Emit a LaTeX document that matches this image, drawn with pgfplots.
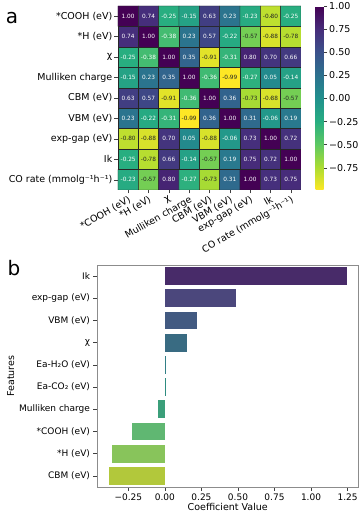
\documentclass[border=0pt]{standalone}
\usepackage{fontspec}
\setmainfont{DejaVu Sans}
\usepackage{pgfplots}
\usepackage{pgfplotstable}
\pgfplotsset{compat=1.18}
\pgfplotsset{colormap={viridisr}{rgb255=(253,231,37) rgb255=(170,220,50) rgb255=(92,200,99) rgb255=(39,173,129) rgb255=(33,144,141) rgb255=(44,113,142) rgb255=(59,81,139) rgb255=(71,44,122) rgb255=(68,1,84)}}
\definecolor{b1}{RGB}{72,43,105}
\definecolor{b2}{RGB}{75,71,124}
\definecolor{b3}{RGB}{66,90,129}
\definecolor{b4}{RGB}{57,107,130}
\definecolor{b5}{RGB}{50,127,134}
\definecolor{b6}{RGB}{46,140,128}
\definecolor{b7}{RGB}{59,159,122}
\definecolor{b8}{RGB}{96,183,114}
\definecolor{b9}{RGB}{136,196,91}
\definecolor{b10}{RGB}{178,200,59}
\definecolor{txtdark}{RGB}{38,38,38}

\pgfplotstableread{
x y c
0 0 -0.23
1 0 -0.57
2 0 0.80
3 0 -0.27
4 0 -0.73
5 0 0.31
6 0 1.00
7 0 0.73
8 0 0.75
0 1 -0.25
1 1 -0.78
2 1 0.66
3 1 -0.14
4 1 -0.57
5 1 0.19
6 1 0.75
7 1 0.72
8 1 1.00
0 2 -0.80
1 2 -0.88
2 2 0.70
3 2 0.05
4 2 -0.88
5 2 -0.06
6 2 0.73
7 2 1.00
8 2 0.72
0 3 0.23
1 3 -0.22
2 3 -0.31
3 3 -0.99
4 3 0.36
5 3 1.00
6 3 0.31
7 3 -0.06
8 3 0.19
0 4 0.63
1 4 0.57
2 4 -0.91
3 4 -0.36
4 4 1.00
5 4 0.36
6 4 -0.73
7 4 -0.88
8 4 -0.57
0 5 -0.15
1 5 0.23
2 5 0.35
3 5 1.00
4 5 -0.36
5 5 -0.99
6 5 -0.27
7 5 0.05
8 5 -0.14
0 6 -0.25
1 6 -0.38
2 6 1.00
3 6 0.35
4 6 -0.91
5 6 -0.31
6 6 0.80
7 6 0.70
8 6 0.66
0 7 0.74
1 7 1.00
2 7 -0.38
3 7 0.23
4 7 0.57
5 7 -0.22
6 7 -0.57
7 7 -0.88
8 7 -0.78
0 8 1.00
1 8 0.74
2 8 -0.25
3 8 -0.15
4 8 0.63
5 8 0.23
6 8 -0.23
7 8 -0.80
8 8 -0.25
}\corr

\begin{document}
\begin{tikzpicture}
\useasboundingbox (0pt,0pt) rectangle (362pt,514pt);

\node[font=\fontsize{20}{22}\selectfont] at (12pt,496pt) {a};
\node[font=\fontsize{20}{22}\selectfont] at (14pt,246pt) {b};

% ---------------- heatmap ----------------
\begin{axis}[
  at={(118pt,324pt)}, anchor=south west,
  scale only axis, width=183pt, height=184pt,
  xmin=-0.5, xmax=8.5, ymin=-0.5, ymax=8.5,
  enlargelimits=false,
  colormap name=viridisr,
  point meta min=-0.99, point meta max=1,
  xtick={0,...,8}, ytick={0,...,8},
  xticklabels={*COOH (eV), *H (eV), χ, Mulliken charge, CBM (eV), VBM (eV), exp-gap (eV), Ik, CO rate (mmolg⁻¹h⁻¹)},
  yticklabels={CO rate (mmolg⁻¹h⁻¹), Ik, exp-gap (eV), VBM (eV), CBM (eV), Mulliken charge, χ, *H (eV), *COOH (eV)},
  xticklabel style={rotate=30, anchor=north east, font=\fontsize{9.5}{10}\selectfont, inner sep=1pt},
  yticklabel style={font=\fontsize{9.5}{10}\selectfont, inner sep=2pt},
  tick pos=left, tick align=outside, major tick length=3.5pt,
  tick style={black!75, line width=0.5pt},
  axis line style={draw=none},
  colorbar,
  colorbar style={
    at={(parent axis.north east)}, anchor=north west, xshift=6pt,
    width=8pt,
    ytick={-0.75,-0.5,-0.25,0,0.25,0.5,0.75,1},
    yticklabels={−0.75,−0.50,−0.25,0.00,0.25,0.50,0.75,1.00},
    yticklabel style={font=\fontsize{9.5}{10}\selectfont, inner sep=2pt},
    ytick pos=right, yticklabel pos=right,
    tick align=outside, major tick length=3.5pt,
    tick style={black!75, line width=0.5pt},
    axis line style={draw=none},
  },
]
\addplot[matrix plot*, mesh/cols=9, point meta=explicit, draw=black!85, line width=0.4pt]
  table[x=x, y=y, meta=c] {\corr};
\addplot[only marks, mark=*, mark size=0.01pt, mark options={draw=none, fill=none},
  point meta=explicit,
  nodes near coords={\pgfmathprintnumber[fixed, fixed zerofill, precision=2, assume math mode=true]{\pgfplotspointmeta}},
  nodes near coords align=center,
  every node near coord/.append style={font=\fontsize{5.8}{6}\selectfont, text=white, anchor=center, inner sep=0pt},
  restrict expr to domain={\thisrow{c}}{-0.45:2}]
  table[x=x, y=y, meta=c] {\corr};
\addplot[only marks, mark=*, mark size=0.01pt, mark options={draw=none, fill=none},
  point meta=explicit,
  nodes near coords={\pgfmathprintnumber[fixed, fixed zerofill, precision=2, assume math mode=true]{\pgfplotspointmeta}},
  nodes near coords align=center,
  every node near coord/.append style={font=\fontsize{5.8}{6}\selectfont, text=txtdark, anchor=center, inner sep=0pt},
  restrict expr to domain={\thisrow{c}}{-2:-0.45}]
  table[x=x, y=y, meta=c] {\corr};
\end{axis}

% ---------------- bar chart ----------------
\begin{axis}[
  at={(97pt,27pt)}, anchor=south west,
  scale only axis, width=261.5pt, height=222pt,
  xmin=-0.465, xmax=1.325, ymin=-0.5, ymax=9.5,
  xbar, bar width=0.8,
  ytick={0,...,9},
  yticklabels={CBM (eV), *H (eV), *COOH (eV), Mulliken charge, Ea-CO₂ (eV), Ea-H₂O (eV), χ, VBM (eV), exp-gap (eV), Ik},
  xtick={-0.25,0,0.25,0.5,0.75,1,1.25},
  xticklabels={−0.25,0.00,0.25,0.50,0.75,1.00,1.25},
  ticklabel style={font=\fontsize{9}{10}\selectfont},
  tick pos=left, tick align=outside, major tick length=3.5pt,
  tick style={black!75, line width=0.5pt},
  axis line style={black!45, line width=0.6pt},
  xlabel={Coefficient Value}, ylabel={Features},
  label style={font=\fontsize{9.5}{10}\selectfont},
  xlabel style={yshift=4pt},
  ylabel style={yshift=-2pt},
]
\addplot[fill=b1, draw=none, bar shift=0pt] coordinates {(1.244,9)};
\addplot[fill=b2, draw=none, bar shift=0pt] coordinates {(0.486,8)};
\addplot[fill=b3, draw=none, bar shift=0pt] coordinates {(0.217,7)};
\addplot[fill=b4, draw=none, bar shift=0pt] coordinates {(0.153,6)};
\addplot[fill=b5, draw=none, bar shift=0pt] coordinates {(0.004,5)};
\addplot[fill=b6, draw=none, bar shift=0pt] coordinates {(0.003,4)};
\addplot[fill=b7, draw=none, bar shift=0pt] coordinates {(-0.050,3)};
\addplot[fill=b8, draw=none, bar shift=0pt] coordinates {(-0.228,2)};
\addplot[fill=b9, draw=none, bar shift=0pt] coordinates {(-0.360,1)};
\addplot[fill=b10, draw=none, bar shift=0pt] coordinates {(-0.384,0)};
\end{axis}
\end{tikzpicture}
\end{document}
